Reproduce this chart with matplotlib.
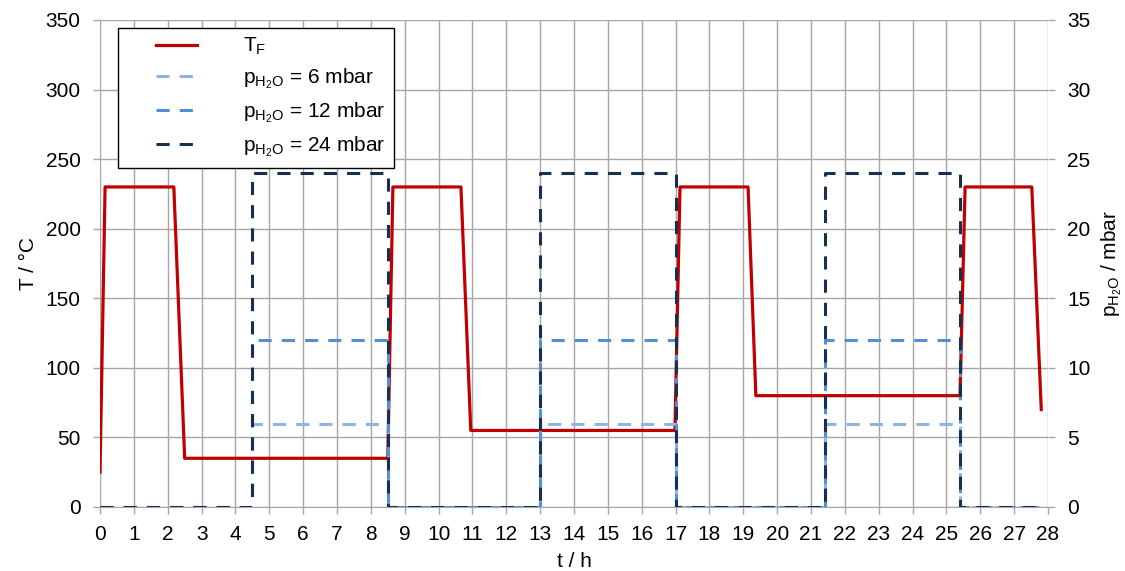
import matplotlib.pyplot as plt
from matplotlib.lines import Line2D
from matplotlib.legend_handler import HandlerLine2D

plt.rcParams['font.family'] = ['Liberation Sans', 'DejaVu Sans']
plt.rcParams['mathtext.fontset'] = 'custom'
plt.rcParams['mathtext.rm'] = 'Liberation Sans'
plt.rcParams['mathtext.it'] = 'Liberation Sans'

# temperatur T_F (t in h, T in °C)
t_T = [0, 0.15, 2.18, 2.5, 8.5, 8.65, 10.66, 10.95, 16.98, 17.13, 19.14, 19.37, 25.4, 25.55, 27.52, 27.8]
T_F = [25, 230, 230, 35, 35, 230, 230, 55, 55, 230, 230, 80, 80, 230, 230, 70]

# Wasserdampfpartialdruck (mbar), Stufenprofil
t_p = [0, 4.5, 4.5, 8.5, 8.5, 13.0, 13.0, 17.0, 17.0, 21.4, 21.4, 25.4, 25.4, 27.8]
on = [0, 0, 1, 1, 0, 0, 1, 1, 0, 0, 1, 1, 0, 0]
p_levels = [6, 12, 24]
p_colors = ['#8DB4E2', '#558ED5', '#17304F']

fs = 15
grid_c = '#A6A6A6'

fig = plt.figure(figsize=(11.25, 5.71), dpi=100)
ax = fig.add_axes([0.0889, 0.1121, 0.8427, 0.8529])
ax2 = ax.twinx()

ax.plot(t_T, T_F, color='#C00000', lw=2.3, label=r'T$_\mathregular{F}$', zorder=3)

handles = []
for lev, c in zip(p_levels, p_colors):
    ln, = ax2.plot(t_p, [lev * v for v in on], color=c, lw=2.2, dashes=(4.3, 3.3),
                   label=r'p$_{\mathregular{H_2O}}$ = %d mbar' % lev)
    handles.append(ln)

ax.set_xlim(0, 28)
ax.set_ylim(0, 350)
ax2.set_ylim(0, 35)
ax.set_xticks(range(0, 29))
ax.set_yticks(range(0, 351, 50))
ax2.set_yticks(range(0, 36, 5))

ax.grid(True, color=grid_c, lw=1.0)
ax.set_axisbelow(True)
for a in (ax, ax2):
    for s in a.spines.values():
        s.set_visible(False)
    a.tick_params(labelsize=fs, length=5, color=grid_c, width=1, pad=9)
ax.tick_params(axis='x', pad=8)
ax.spines['bottom'].set_visible(True)
ax.spines['bottom'].set_color(grid_c)

ax.set_xlabel('t / h', fontsize=fs, labelpad=6)
ax.set_ylabel('T / °C', fontsize=fs, labelpad=5)
ax2.set_ylabel(r'p$_{\mathregular{H_2O}}$ / mbar', fontsize=fs, labelpad=6)

h1, l1 = ax.get_legend_handles_labels()
leg = ax2.legend(h1 + handles, l1 + [h.get_label() for h in handles],
                 loc='upper left', bbox_to_anchor=(0.019, 0.984), borderaxespad=0,
                 fontsize=fs, fancybox=False, framealpha=1, edgecolor='black',
                 handlelength=3.4, handletextpad=2.2, labelspacing=0.45, borderpad=0.4,
                 handler_map={Line2D: HandlerLine2D(xpad=1.4)})
leg.get_frame().set_linewidth(1.0)
leg.set_zorder(10)

fig.savefig('out.png', dpi=100)
